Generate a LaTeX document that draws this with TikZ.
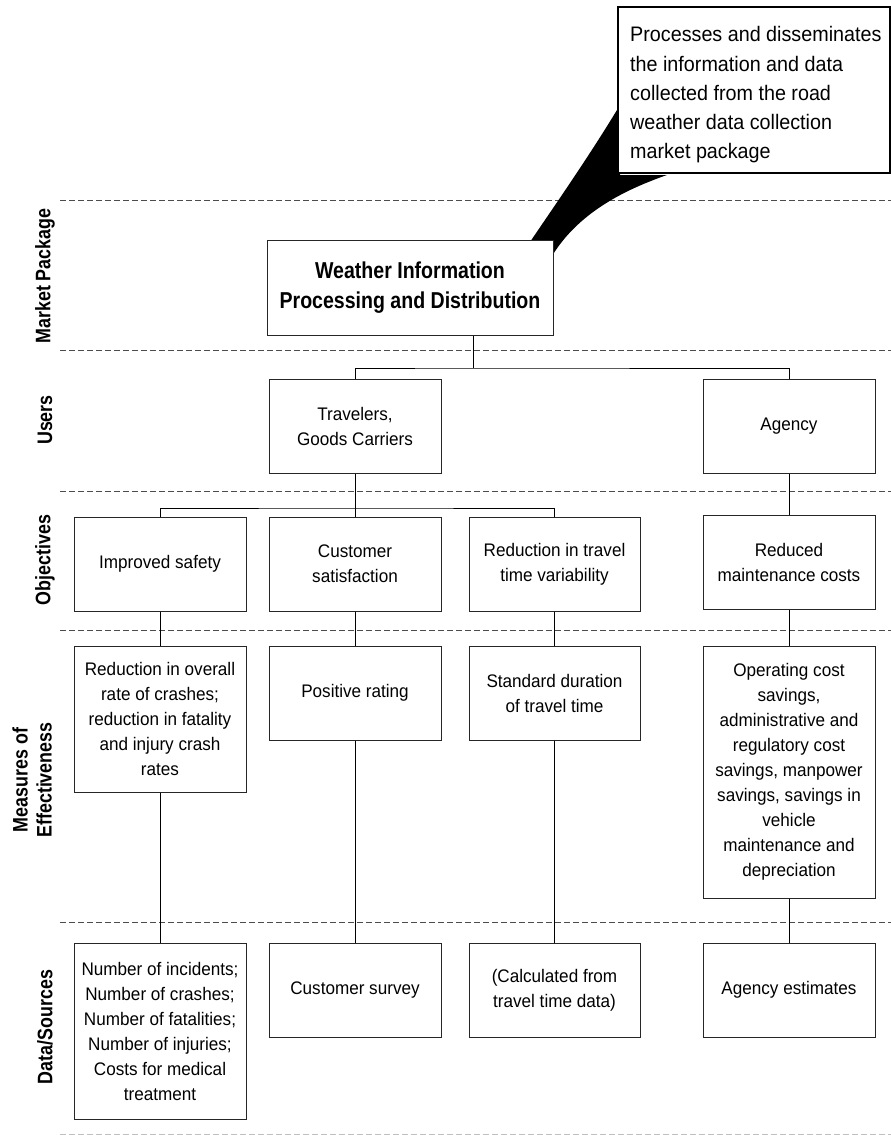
\documentclass[tikz,border=0pt]{standalone}
\usepackage{fontspec}
\usetikzlibrary{calc}
\setmainfont{Liberation Sans}
\newfontfamily\plainfont{Liberation Sans}[FakeStretch=0.94]
\newfontfamily\narrowfont{Liberation Sans}[FakeStretch=0.85]
\begin{document}
\begin{tikzpicture}[x=1pt,y=-1pt,
  box/.style={draw=black!85, line width=1pt, fill=white, rectangle, inner sep=0pt,
    align=center, minimum width=172pt, font=\plainfont\fontsize{18.2}{25}\selectfont},
  rowlabel/.style={rotate=90, align=center, inner sep=0pt,
    font=\narrowfont\bfseries\fontsize{21}{24}\selectfont},
  rule/.style={draw=black!70, line width=0.9pt, dash pattern=on 5.5pt off 3.5pt},
  wire/.style={draw=black, line width=1pt}]
\useasboundingbox (0,0) rectangle (891,1135);

% section separators
\draw[rule] (60,200) -- (891,200);
\draw[rule] (60,350) -- (891,350);
\draw[rule] (60,491) -- (891,491);
\draw[rule] (60,630) -- (891,630);
\draw[rule] (60,922) -- (891,922);
\draw[rule, draw=black!25] (60,1134) -- (891,1134);

% row labels
\node[rowlabel] (lmp)  at (45,276)  {Market Package};
\node[rowlabel] (lus)  at (45,420)  {Users};
\node[rowlabel] (lob)  at (45,560)  {Objectives};
\node[rowlabel] (lmoe) at (32,780)  {Measures of\\Effectiveness};
\node[rowlabel] (lds)  at (45,1027) {Data/Sources};

% callout tail
\fill[black] (530,242) .. controls (555,205) and (590,155) .. (620,105)
  -- (620,175) -- (667,175) .. controls (630,188) and (580,210) .. (552,256)
  -- (552,242) -- cycle;

% callout
\node[draw=black, line width=2pt, fill=white, rectangle, minimum width=272pt,
  minimum height=166pt, inner sep=0pt] (callout) at (754,90) {};
\node[anchor=north west, inner sep=0pt, align=left,
  font=\plainfont\fontsize{21}{29.2}\selectfont] (callouttext) at (630,26.5)
  {Processes and disseminates\\the information and data\\collected from the road\\weather data collection\\market package};

% market package
\node[box, minimum width=286pt, minimum height=95pt,
  font=\narrowfont\bfseries\fontsize{23}{30}\selectfont] (main) at (410,287.5)
  {Weather Information\\Processing and Distribution};

% users
\node[box, minimum height=94pt] (trav)   at (355,426) {Travelers,\\Goods Carriers};
\node[box, minimum height=94pt] (agency) at (789,426) {Agency};

% objectives
\node[box, minimum height=94pt] (safety)  at (160,564)   {Improved safety};
\node[box, minimum height=94pt] (sat)     at (355,564)   {Customer\\satisfaction};
\node[box, minimum height=94pt, minimum width=171pt] (ttv) at (554.5,564) {Reduction in travel\\time variability};
\node[box, minimum height=94pt] (reduced) at (789,562)   {Reduced\\maintenance costs};

% measures of effectiveness
\node[box, minimum height=146pt] (crash) at (160,719)
  {Reduction in overall\\rate of crashes;\\reduction in fatality\\and injury crash\\rates};
\node[box, minimum height=94pt] (rating) at (355,693) {Positive rating};
\node[box, minimum height=94pt, minimum width=171pt] (dur) at (554.5,693) {Standard duration\\of travel time};
\node[box, minimum height=252pt] (costs) at (789,772)
  {Operating cost\\savings,\\administrative and\\regulatory cost\\savings, manpower\\savings, savings in\\vehicle\\maintenance and\\depreciation};

% data / sources
\node[box, minimum height=176pt] (counts) at (160,1031)
  {Number of incidents;\\Number of crashes;\\Number of fatalities;\\Number of injuries;\\Costs for medical\\treatment};
\node[box, minimum height=94pt] (survey) at (355,990) {Customer survey};
\node[box, minimum height=94pt, minimum width=171pt] (calcd) at (554.5,990) {(Calculated from\\travel time data)};
\node[box, minimum height=94pt] (est) at (789,990) {Agency estimates};

% connectors
\coordinate (mainout) at ($(main.south west)!0.72!(main.south east)$);
\coordinate (busU) at (mainout |- 0,368);
\coordinate (busO) at (trav.south |- 0,508);
\draw[wire] (mainout) -- (busU);
\draw[wire] (trav.north) |- (busU) -| (agency.north);
\draw[wire] (trav.south) -- (sat.north);
\draw[wire] (safety.north) |- (busO) -| (ttv.north);
\draw[wire] (agency.south) -- (reduced.north);
\draw[wire] (safety.south) -- (crash.north);
\draw[wire] (sat.south) -- (rating.north);
\draw[wire] (ttv.south) -- (dur.north);
\draw[wire] (reduced.south) -- (costs.north);
\draw[wire] (crash.south) -- (counts.north);
\draw[wire] (rating.south) -- (survey.north);
\draw[wire] (dur.south) -- (calcd.north);
\draw[wire] (costs.south) -- (est.north);
\end{tikzpicture}
\end{document}
